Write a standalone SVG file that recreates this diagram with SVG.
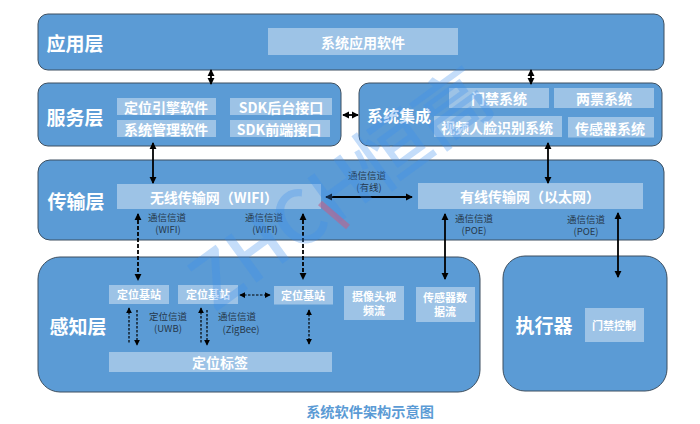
<svg xmlns="http://www.w3.org/2000/svg" width="700" height="424" viewBox="0 0 700 424">
<style>
text{font-family:"Noto Sans CJK SC","Noto Sans",sans-serif;text-anchor:middle;dominant-baseline:central}
.layer{fill:#5b9bd5;stroke:#3d4f60;stroke-width:1}
.box{fill:#9dc3e6}
.t{fill:#fff;font-weight:700}
.h{font-size:19px}
.m{font-size:14px}
.s{font-size:11px}
.c{fill:#26384a;font-size:9.5px}
.a{fill:none;stroke:#000;stroke-width:1.8;marker-start:url(#ah);marker-end:url(#ah)}
.d{stroke-dasharray:4 2}
.e{fill:none;stroke:#000;stroke-width:1.2;stroke-dasharray:2.5 1.5}
.wm{font-weight:500;font-size:74px;fill:#3d8fee;fill-opacity:.3}
</style>
<defs>
<marker id="ah" viewBox="0 0 8 8" refX="7" refY="4" markerWidth="4" markerHeight="4" orient="auto-start-reverse"><path d="M0 0L8 4L0 8Z" fill="#000"/></marker>
<marker id="as" viewBox="0 0 8 8" refX="7" refY="4" markerWidth="5" markerHeight="5" orient="auto-start-reverse"><path d="M0 0L8 4L0 8Z" fill="#000"/></marker>
</defs>
<g id="app-layer"><rect class="layer" x="38" y="14" width="626" height="56" rx="10"/><text class="t h" x="75" y="42">应用层</text><rect class="box" x="268" y="28" width="190" height="27"/><text class="t m" x="363" y="41.500">系统应用软件</text></g>
<g id="service-layer"><rect class="layer" x="38" y="83" width="303" height="63" rx="10"/><text class="t h" x="75" y="116">服务层</text>
<rect class="box" x="117" y="98" width="99" height="17"/><text class="t m" x="166" y="106.500">定位引擎软件</text>
<rect class="box" x="230" y="98" width="102" height="17"/><text class="t m" x="281" y="106.500">SDK后台接口</text>
<rect class="box" x="117" y="120" width="99" height="17"/><text class="t m" x="166" y="128.500">系统管理软件</text>
<rect class="box" x="230" y="120" width="100" height="17"/><text class="t m" x="279" y="128.500">SDK前端接口</text></g>
<g id="integration-layer"><rect class="layer" x="359" y="83" width="303" height="63" rx="10"/><text class="t" style="font-size:16px" x="399" y="115">系统集成</text>
<rect class="box" x="449" y="88" width="100" height="20"/><text class="t m" x="499" y="98">门禁系统</text>
<rect class="box" x="554" y="88" width="100" height="20"/><text class="t m" x="604" y="98">两票系统</text>
<rect class="box" x="434" y="116" width="128" height="21"/><text class="t m" x="497" y="127">视频人脸识别系统</text>
<rect class="box" x="568" y="117" width="86" height="20.500"/><text class="t m" x="610" y="127.500">传感器系统</text></g>
<g id="transport-layer"><rect class="layer" x="38" y="160" width="626" height="80" rx="12"/><text class="t h" x="76" y="200">传输层</text>
<rect class="box" x="117" y="184" width="204" height="25"/><text class="t m" x="214" y="196.500">无线传输网（WIFI）</text>
<rect class="box" x="418" y="183" width="225" height="26"/><text class="t m" x="530" y="196">有线传输网（以太网）</text></g>
<g id="perception-layer"><rect class="layer" x="38" y="257" width="442" height="135" rx="22"/><text class="t h" x="78" y="325">感知层</text>
<rect class="box" x="109" y="285" width="60" height="19"/><text class="t s" x="139" y="294">定位基站</text>
<rect class="box" x="178" y="285" width="60" height="19"/><text class="t s" x="208" y="294">定位基站</text>
<rect class="box" x="274" y="286" width="59" height="18.500"/><text class="t s" x="303" y="295">定位基站</text>
<rect class="box" x="344" y="286" width="60" height="34"/><text class="t s" x="374" y="296">摄像头视<tspan x="374" dy="14">频流</tspan></text>
<rect class="box" x="416" y="287" width="59" height="35"/><text class="t s" x="445" y="297">传感器数<tspan x="445" dy="14">据流</tspan></text>
<rect class="box" x="109" y="352" width="223" height="20"/><text class="t m" x="220" y="362">定位标签</text></g>
<g id="actuator-layer"><rect class="layer" x="503" y="256" width="164" height="135" rx="22"/><text class="t h" x="544" y="324">执行器</text>
<rect class="box" x="585" y="308" width="59" height="34"/><text class="t s" x="614" y="325">门禁控制</text></g>
<g id="connectors">
<path class="a" d="M211 70V84"/><path class="a" d="M531 70V84"/><path class="a" d="M343 115H358"/>
<path class="a" d="M153 143V183"/><path class="a" d="M548 143V183"/><path class="a" d="M326 197H412"/>
<path class="a d" d="M138 214V280"/><path class="a d" d="M303 214V279"/>
<path class="a" d="M445 214V279"/><path class="a" d="M618 213V277"/>
<path class="e" marker-start="url(#as)" d="M129 308V343"/><path class="e" marker-end="url(#as)" d="M137 310V345"/>
<path class="e" marker-start="url(#as)" d="M201 308V344"/><path class="e" marker-end="url(#as)" d="M207 310V345"/>
<path class="e" marker-start="url(#as)" marker-end="url(#as)" d="M309 310V344"/>
<path class="e" marker-start="url(#as)" marker-end="url(#as)" d="M240 295H270"/>
</g>
<g id="channel-labels">
<text class="c" x="367" y="175">通信信道<tspan x="369" dy="12">(有线)</tspan></text>
<text class="c" x="167" y="217">通信信道<tspan x="168" dy="12">(WIFI)</tspan></text>
<text class="c" x="264" y="217">通信信道<tspan x="265" dy="12">(WIFI)</tspan></text>
<text class="c" x="474" y="218">通信信道<tspan x="474" dy="12">(POE)</tspan></text>
<text class="c" x="586" y="219">通信信道<tspan x="586" dy="12">(POE)</tspan></text>
<text class="c" x="168" y="316">定位信道<tspan x="168" dy="12">(UWB)</tspan></text>
<text class="c" x="237" y="316">通信信道<tspan x="241" dy="13">(ZigBee)</tspan></text>
</g>
<text x="370" y="411" style="font-size:14.200px;font-weight:700;fill:#5b9bd5">系统软件架构示意图</text>
<g id="watermark"><text class="wm" transform="translate(337 184) rotate(-36)">ZHCH恒高</text><path d="M320 203L348 227" stroke="#c0608a" stroke-opacity=".6" stroke-width="6" fill="none"/></g>
</svg>
